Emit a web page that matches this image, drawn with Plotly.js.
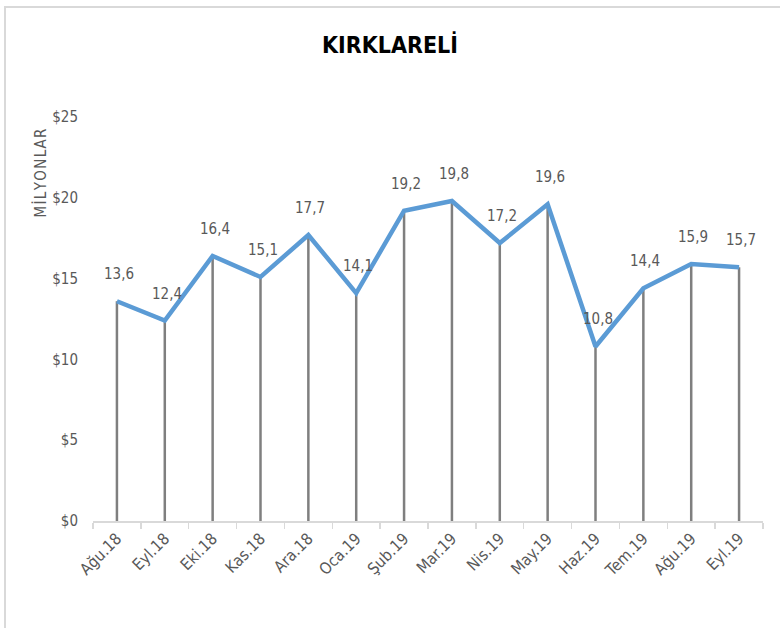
<!DOCTYPE html>
<html><head><meta charset="utf-8">
<script src="https://cdn.plot.ly/plotly-3.0.1.min.js"></script>
<style>
html,body{margin:0;padding:0;background:#fff;}
#wrap{position:relative;width:780px;height:628px;overflow:hidden;}
#frame{position:absolute;left:4px;top:6px;width:800px;height:700px;border-top:2px solid #d9d9d9;border-left:2px solid #d9d9d9;pointer-events:none;}
#chart{position:absolute;left:0;top:0;width:780px;height:628px;}
</style></head>
<body><div id="wrap"><div id="chart"></div><div id="frame"></div></div>
<script>
const categories = ["Ağu.18","Eyl.18","Eki.18","Kas.18","Ara.18","Oca.19","Şub.19","Mar.19","Nis.19","May.19","Haz.19","Tem.19","Ağu.19","Eyl.19"];
const values = [13.6,12.4,16.4,15.1,17.7,14.1,19.2,19.8,17.2,19.6,10.8,14.4,15.9,15.7];
const yTickVals = [0,5,10,15,20,25];
const yTickText = ["$0","$5","$10","$15","$20","$25"];

const FONT = "'DejaVu Sans Condensed', 'Liberation Sans Narrow', 'Liberation Sans', sans-serif";
const GREY = "#595959";

const dropX = [], dropY = [];
categories.forEach((c,i)=>{ dropX.push(c,c,null); dropY.push(0,values[i],null); });

const traces = [
  {x: dropX, y: dropY, type:"scatter", mode:"lines", line:{color:"#7f7f7f", width:2.5}, hoverinfo:"skip", showlegend:false},
  {x: categories, y: values, type:"scatter", mode:"lines", line:{color:"#5b9bd5", width:4.5}, showlegend:false}
];

const annotations = categories.map((c,i)=>({
  x:c, y:values[i], xref:"x", yref:"y", text:values[i].toFixed(1).replace(".",","),
  showarrow:false, yshift:27, xshift:2, font:{family:FONT, size:15, color:GREY}
}));
annotations.push({xref:"paper", yref:"paper", x:-0.078, y:0.862, xanchor:"center", yanchor:"middle",
  text:"M İ L Y O N L A R".replace(/ /g,"\u200A"), textangle:-90, showarrow:false, font:{family:FONT, size:15, color:GREY}});

const layout = {
  width:780, height:628,
  margin:{l:93, r:17, t:117, b:107},
  paper_bgcolor:"rgba(0,0,0,0)", plot_bgcolor:"rgba(0,0,0,0)",
  title:{text:"<b>KIRKLARELİ</b>", x:0.5, xanchor:"center", y:0.928, yanchor:"middle",
    font:{family:FONT, size:23, color:"#000"}},
  xaxis:{type:"category", range:[-0.5,13.5], showgrid:false, zeroline:false,
    showline:true, linecolor:"#d9d9d9", linewidth:2,
    ticks:"outside", tickson:"boundaries", ticklen:6, tickcolor:"#d9d9d9", tickwidth:1.5,
    tickangle:-45, tickfont:{family:FONT, size:16, color:GREY}},
  yaxis:{range:[0,25], tickvals:yTickVals, ticktext:yTickText, showgrid:false, zeroline:false,
    showline:false, ticks:"", ticklabelstandoff:14, tickfont:{family:FONT, size:15, color:GREY}},
  annotations:annotations,
  showlegend:false
};
Plotly.newPlot("chart", traces, layout, {displayModeBar:false, staticPlot:true});
</script></body></html>
